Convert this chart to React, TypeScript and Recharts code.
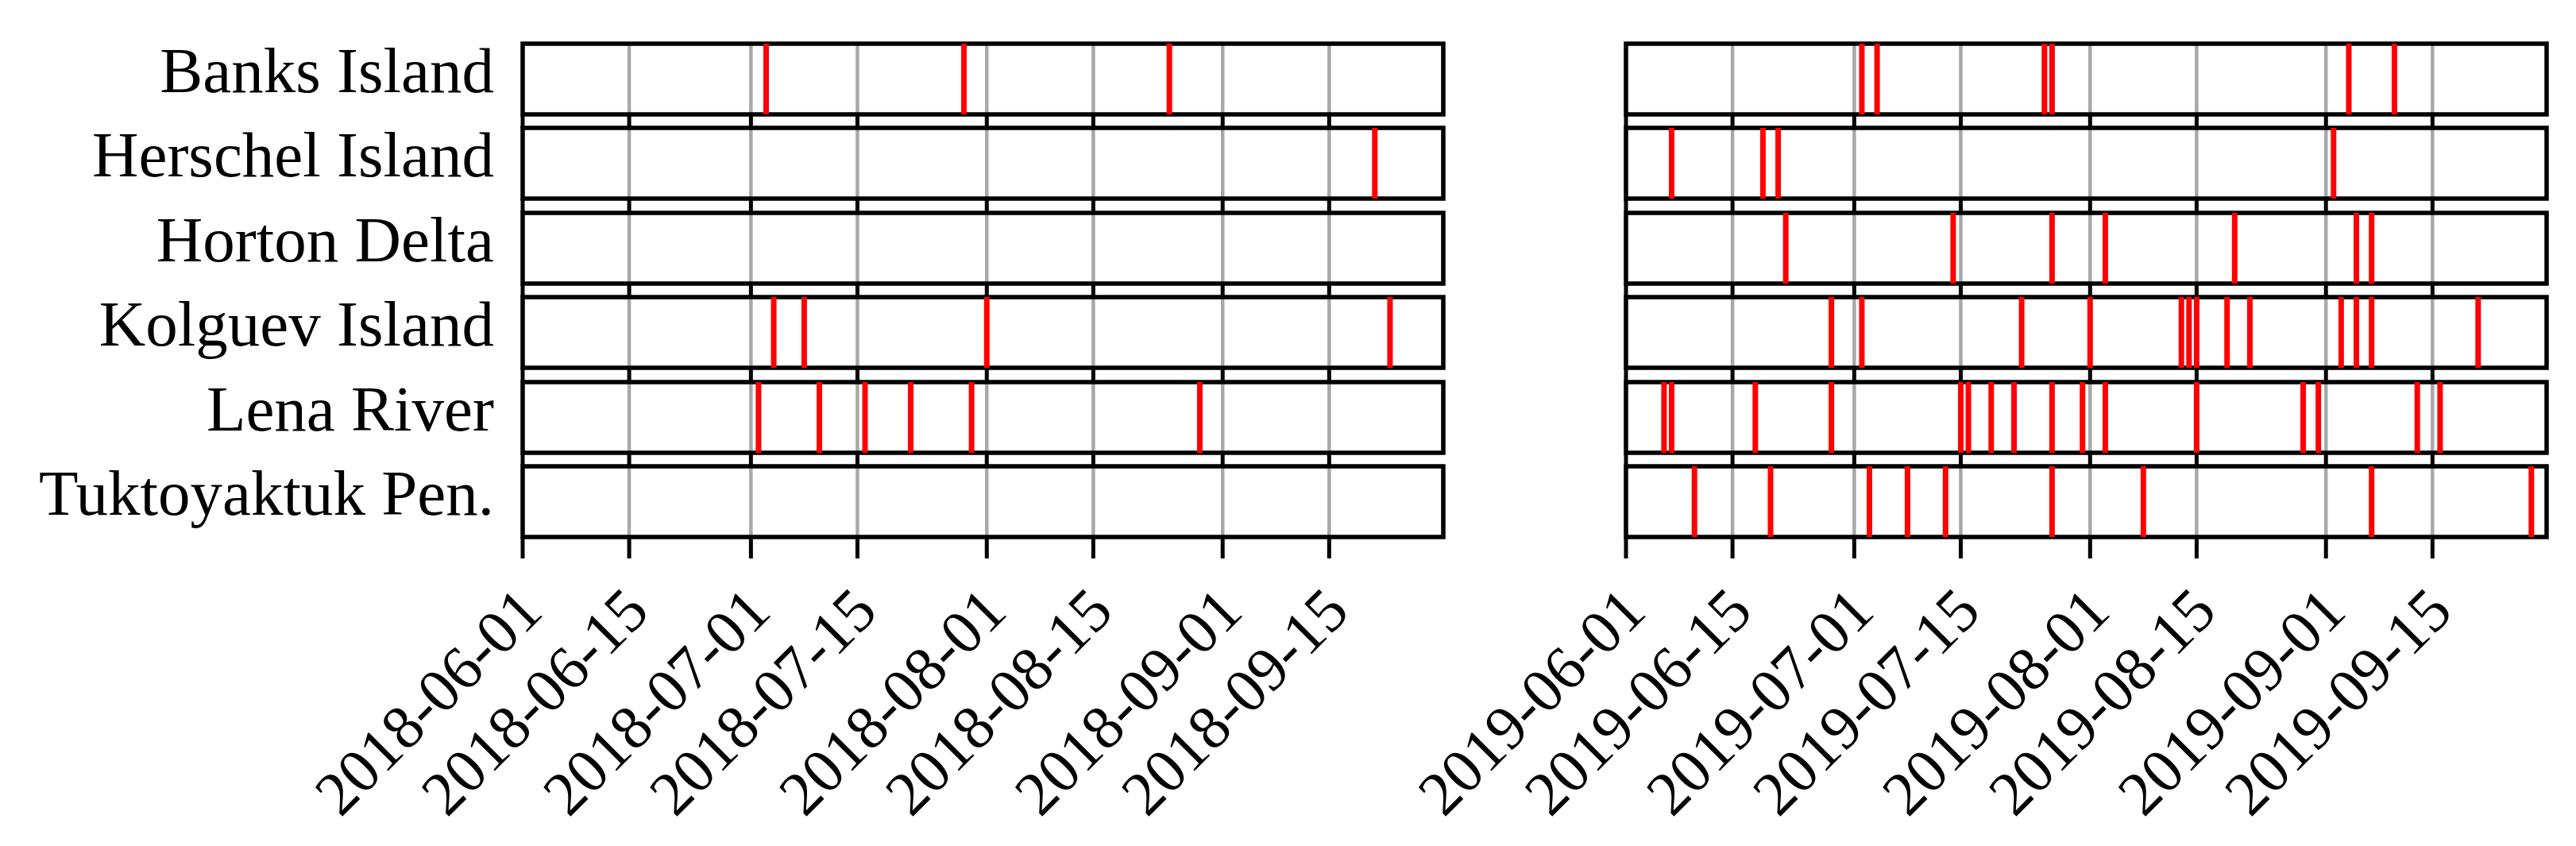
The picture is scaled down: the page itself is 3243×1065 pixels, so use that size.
import React from 'react';
import { ComposedChart, XAxis, YAxis, CartesianGrid, ReferenceLine, ReferenceArea, Line } from 'recharts';

const sites = ['Banks Island', 'Herschel Island', 'Horton Delta', 'Kolguev Island', 'Lena River', 'Tuktoyaktuk Pen.'];

const ticks2018 = ['2018-06-01', '2018-06-15', '2018-07-01', '2018-07-15', '2018-08-01', '2018-08-15', '2018-09-01', '2018-09-15'];
const ticks2019 = ['2019-06-01', '2019-06-15', '2019-07-01', '2019-07-15', '2019-08-01', '2019-08-15', '2019-09-01', '2019-09-15'];
const range2018 = ['2018-06-01', '2018-09-30'];
const range2019 = ['2019-06-01', '2019-09-30'];

const banks2018 = ['2018-07-03', '2018-07-29', '2018-08-25'];
const herschel2018 = ['2018-09-21'];
const horton2018: string[] = [];
const kolguev2018 = ['2018-07-04', '2018-07-08', '2018-08-01', '2018-09-23'];
const lena2018 = ['2018-07-02', '2018-07-10', '2018-07-16', '2018-07-22', '2018-07-30', '2018-08-29'];
const tuk2018: string[] = [];

const banks2019 = ['2019-07-02', '2019-07-04', '2019-07-26', '2019-07-27', '2019-09-04', '2019-09-10'];
const herschel2019 = ['2019-06-07', '2019-06-19', '2019-06-21', '2019-09-02'];
const horton2019 = ['2019-06-22', '2019-07-14', '2019-07-27', '2019-08-03', '2019-08-20', '2019-09-05', '2019-09-07'];
const kolguev2019 = ['2019-06-28', '2019-07-02', '2019-07-23', '2019-08-01', '2019-08-13', '2019-08-14', '2019-08-15', '2019-08-19', '2019-08-22', '2019-09-03', '2019-09-05', '2019-09-07', '2019-09-21'];
const lena2019 = ['2019-06-06', '2019-06-07', '2019-06-18', '2019-06-28', '2019-07-15', '2019-07-16', '2019-07-19', '2019-07-22', '2019-07-27', '2019-07-31', '2019-08-03', '2019-08-15', '2019-08-29', '2019-08-31', '2019-09-13', '2019-09-16'];
const tuk2019 = ['2019-06-10', '2019-06-20', '2019-07-03', '2019-07-08', '2019-07-13', '2019-07-27', '2019-08-08', '2019-09-07', '2019-09-28'];

const events2018 = [banks2018, herschel2018, horton2018, kolguev2018, lena2018, tuk2018];
const events2019 = [banks2019, herschel2019, horton2019, kolguev2019, lena2019, tuk2019];

const DAY = 86400000;
const dayOf = (d: string, start: string) => Math.round((Date.parse(d) - Date.parse(start)) / DAY);

const FONT = '"Liberation Serif", "Times New Roman", serif';

const ROW_TOP0 = 55;
const ROW_PITCH = 106.4;
const ROW_H = 89;
const PAD_T = 10;
const PAD_R = 12;

type PanelProps = {
  left: number;
  plotLeft: number;
  plotWidth: number;
  tickDates: string[];
  range: string[];
  events: string[][];
  showLabels: boolean;
};

const NoTick = () => <g />;

const Panel = ({ left, plotLeft, plotWidth, tickDates, range, events, showLabels }: PanelProps) => {
  const start = range[0];
  const end = dayOf(range[1], start);
  const tickVals = tickDates.map((d) => dayOf(d, start));
  const data = [{ x: 0, y: 0 }, { x: end, y: 1 }];
  const leftSpace = plotLeft - left;
  return (
    <>
      {sites.map((site, i) => {
        const last = i === sites.length - 1;
        const tickSize = last ? 27 : 17;
        const axisH = last ? 370 : 20;
        const top = ROW_TOP0 + i * ROW_PITCH - PAD_T;
        const width = leftSpace + plotWidth + PAD_R;
        const height = PAD_T + ROW_H + axisH;
        const DateTick = (p: any) => {
          const ax = p.x + 28;
          const ay = p.y + 70;
          const idx = tickVals.indexOf(p.payload.value);
          return (
            <text x={ax} y={ay} textAnchor="end" transform={`rotate(-45 ${ax} ${ay})`} fontSize={78} fontFamily={FONT} fill="#000">
              {tickDates[idx]}
            </text>
          );
        };
        const RowLabel = (p: any) => (
          <text x={p.x} y={p.y} dy={16} textAnchor="end" fontSize={81} fontFamily={FONT} fill="#000">
            {site}
          </text>
        );
        return (
          <div key={site} style={{ position: 'absolute', left, top }}>
            <ComposedChart
              width={width}
              height={height}
              data={data}
              margin={{ top: PAD_T, right: PAD_R, bottom: 0, left: showLabels ? 0 : leftSpace }}
            >
              <CartesianGrid vertical horizontal={false} stroke="#a8a8a8" strokeWidth={4.5} />
              <XAxis
                dataKey="x"
                type="number"
                domain={[0, end]}
                allowDataOverflow
                ticks={tickVals}
                interval={0}
                axisLine={false}
                tickLine={{ stroke: '#000', strokeWidth: 5 }}
                tickSize={tickSize}
                tickMargin={0}
                height={axisH}
                tick={last ? DateTick : NoTick}
              />
              <YAxis
                dataKey="y"
                type="number"
                domain={[0, 1]}
                allowDataOverflow
                ticks={[0.5]}
                hide={!showLabels}
                width={showLabels ? leftSpace : 0}
                axisLine={false}
                tickLine={false}
                tickSize={0}
                tickMargin={36}
                tick={RowLabel}
              />
              <Line dataKey="y" stroke="none" dot={false} activeDot={false} isAnimationActive={false} />
              {events[i].map((d, k) => (
                <ReferenceLine key={k} x={dayOf(d, start)} stroke="#ff0000" strokeWidth={7} ifOverflow="visible" />
              ))}
              <ReferenceArea x1={0} x2={end} y1={0} y2={1} fill="none" fillOpacity={0} stroke="#000" strokeWidth={5.5} ifOverflow="visible" />
            </ComposedChart>
          </div>
        );
      })}
    </>
  );
};

export default function App() {
  return (
    <div style={{ position: 'absolute', left: 0, top: 0, width: 3243, height: 1065, background: '#fff', overflow: 'hidden' }}>
      <Panel left={0} plotLeft={658} plotWidth={1159} tickDates={ticks2018} range={range2018} events={events2018} showLabels />
      <Panel left={1760} plotLeft={2047} plotWidth={1159} tickDates={ticks2019} range={range2019} events={events2019} showLabels={false} />
    </div>
  );
}
